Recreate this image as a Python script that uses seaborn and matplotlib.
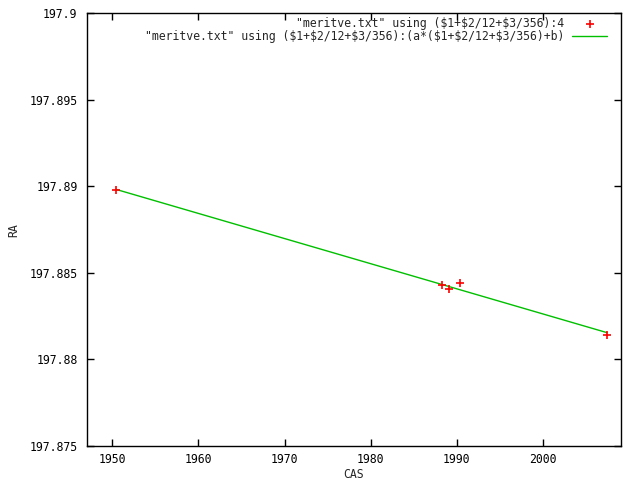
import numpy as np
import pandas as pd
import matplotlib
matplotlib.use("Agg")
import matplotlib.pyplot as plt
import seaborn as sns

# data
years = [1950.42, 1988.28, 1989.12, 1990.40, 2007.47]
ra = [197.88976, 197.88428, 197.88408, 197.88439, 197.88139]
xticks = [1950, 1960, 1970, 1980, 1990, 2000]
yticks = [197.875, 197.88, 197.885, 197.89, 197.895, 197.9]
ytick_labels = ["197.875", "197.88", "197.885", "197.89", "197.895", "197.9"]
lbl_pts = '"meritve.txt" using ($1+$2/12+$3/356):4'
lbl_fit = '"meritve.txt" using ($1+$2/12+$3/356):(a*($1+$2/12+$3/356)+b)'

sns.set_style("white")
plt.rcParams['font.family'] = ['DejaVu Sans Mono']
plt.rcParams['font.size'] = 8.3
plt.rcParams['text.parse_math'] = False

df = pd.DataFrame({"CAS": years, "RA": ra})
a, b = np.polyfit(df["CAS"], df["RA"], 1)
fit = pd.DataFrame({"CAS": [years[0], years[-1]]})
fit["RA"] = a * fit["CAS"] + b

L, R, T, B = 86.5, 620.5, 13, 446
fig = plt.figure(figsize=(6.4, 4.8), dpi=100)
ax = fig.add_axes([L/640, 1-B/480, (R-L)/640, (B-T)/480])

sns.scatterplot(data=df, x="CAS", y="RA", marker="+", color="#ff0000", s=40,
                linewidth=1.2, ax=ax, label=lbl_pts, zorder=3)
sns.lineplot(data=fit, x="CAS", y="RA", color="#00c000", linewidth=1.0, ax=ax,
             label=lbl_fit, zorder=2)

ax.set_xlim(1947, 2009)
ax.set_ylim(197.875, 197.9)
ax.set_xticks(xticks)
ax.set_xticklabels([str(t) for t in xticks])
ax.set_yticks(yticks)
ax.set_yticklabels(ytick_labels)
ax.tick_params(direction="in", length=5, width=1, top=True, right=True,
               bottom=True, left=True, colors="black", labelsize=8.3)
ax.tick_params(axis="x", pad=5)
ax.tick_params(axis="y", pad=6.5)
for s in ax.spines.values():
    s.set_color("black")
    s.set_linewidth(1.0)
ax.set_xlabel("CAS", fontsize=8.3, va="center", ha="center")
ax.set_ylabel("RA", fontsize=8.3, va="center", ha="center")
ax.xaxis.set_label_coords(0.5, -(474 - B) / (B - T))
ax.yaxis.set_label_coords((14 - L) / (R - L), 0.5 - (230 - (B + T) / 2) / (B - T))
ax.grid(False)

leg = ax.legend(loc="upper right", frameon=False, markerfirst=False, fontsize=8.3,
                handlelength=3.0, borderaxespad=0.0, borderpad=0.0,
                labelspacing=0.0, handletextpad=0.7,
                bbox_to_anchor=((607 - L) / (R - L), 1 - (17 - T) / (B - T)))
for t in leg.get_texts():
    t.set_ha("right")
leg._legend_box.align = "right"

fig.savefig("out.png", dpi=100)
